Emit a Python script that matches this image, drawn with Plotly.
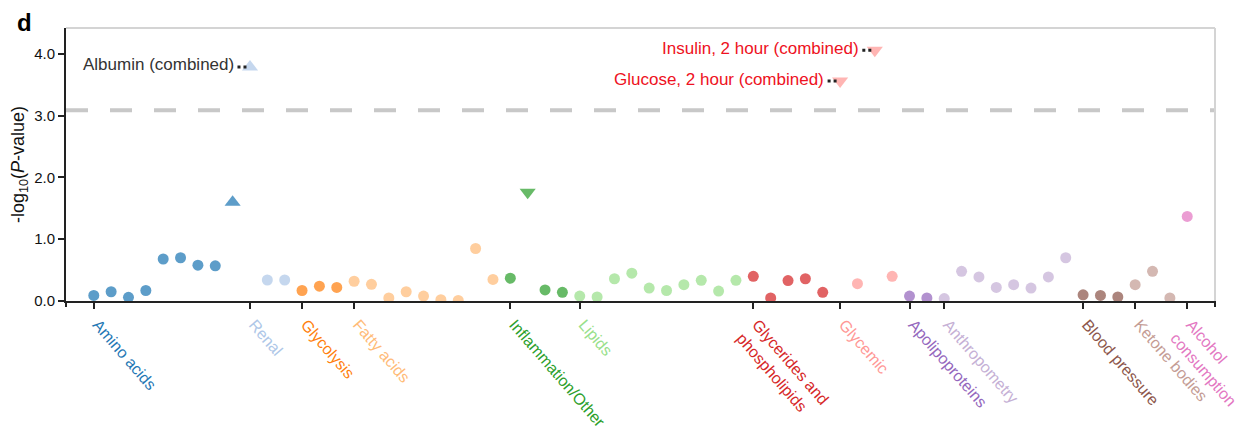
import plotly.graph_objects as go

# ---------------- data ----------------
groups = ["Amino acids", "Renal", "Glycolysis", "Fatty acids", "Inflammation/Other", "Lipids",
          "Glycerides and phospholipids", "Glycemic", "Apolipoproteins", "Anthropometry",
          "Blood pressure", "Ketone bodies", "Alcohol consumption"]
group_ticktext = ["Amino acids", "Renal", "Glycolysis", "Fatty acids", "Inflammation/Other", "Lipids",
                  "Glycerides and<br>phospholipids", "Glycemic", "Apolipoproteins", "Anthropometry",
                  "Blood pressure", "Ketone bodies", "Alcohol<br>consumption"]
group_colors = ["#1f77b4", "#aec7e8", "#ff7f0e", "#ffbb78", "#2ca02c", "#98df8a",
                "#d62728", "#ff9896", "#9467bd", "#c5b0d5", "#8c564b", "#c49c94", "#e377c2"]

amino_acids = [0.09, 0.15, 0.06, 0.17, 0.68, 0.70, 0.58, 0.57, 1.60]
renal = [3.79, 0.34, 0.34]
glycolysis = [0.17, 0.24, 0.22]
fatty_acids = [0.32, 0.27, 0.05, 0.15, 0.08, 0.02, 0.01, 0.85, 0.35]
inflammation = [0.37, 1.76, 0.18, 0.14]
lipids = [0.08, 0.065, 0.36, 0.45, 0.21, 0.17, 0.265, 0.335, 0.16, 0.335]
glycerides = [0.40, 0.05, 0.33, 0.36, 0.14]
glycemic = [3.56, 0.28, 4.06, 0.40]
apolipoproteins = [0.08, 0.05]
anthropometry = [0.04, 0.48, 0.39, 0.22, 0.265, 0.21, 0.39, 0.70]
blood_pressure = [0.10, 0.09, 0.065]
ketone_bodies = [0.265, 0.48, 0.05]
alcohol = [1.37]

group_values = [amino_acids, renal, glycolysis, fatty_acids, inflammation, lipids, glycerides,
                glycemic, apolipoproteins, anthropometry, blood_pressure, ketone_bodies, alcohol]

# marker shapes: o = circle, ^ = up triangle, v = down triangle
amino_shapes = ["o"] * 8 + ["^"]
renal_shapes = ["^", "o", "o"]
inflammation_shapes = ["o", "v", "o", "o"]
glycemic_shapes = ["v", "o", "v", "o"]
group_shapes = {0: amino_shapes, 1: renal_shapes, 4: inflammation_shapes, 7: glycemic_shapes}

# labelled points: (group index, position in group, text, text colour)
labels = [(1, 0, "Albumin (combined)", "#333333"),
          (7, 2, "Insulin, 2 hour (combined)", "#ee1122"),
          (7, 0, "Glucose, 2 hour (combined)", "#ee1122")]

threshold = 3.09
y_ticks = [0.0, 1.0, 2.0, 3.0, 4.0]

# ---------------- figure ----------------
FONT = "Arial, Liberation Sans, sans-serif"
sym_map = {"o": "circle", "^": "triangle-up", "v": "triangle-down"}
W, H = 1244, 421          # page body adds an 8px offset
ML, MR, MT, MB = 58, 37, 20, 128
PLOT_H = H - MT - MB
PLOT_W = W - ML - MR

fig = go.Figure()
starts = []
pos = 0
for gi, (vals, col) in enumerate(zip(group_values, group_colors)):
    starts.append(pos)
    shapes = group_shapes.get(gi, ["o"] * len(vals))
    xs = list(range(pos, pos + len(vals)))
    fig.add_trace(go.Scatter(
        x=xs, y=vals, mode="markers", showlegend=False, cliponaxis=True,
        marker=dict(color=col, opacity=0.72,
                    symbol=[sym_map[s] for s in shapes],
                    size=[11 if s == "o" else 14 for s in shapes],
                    line=dict(width=0)),
    ))
    pos += len(vals)
n_total = pos

# label annotations with dotted connectors
for gi, k, txt, tcol in labels:
    x = starts[gi] + k
    y = group_values[gi][k]
    fig.add_trace(go.Scatter(
        x=[x - 0.72, x - 0.12], y=[y, y], mode="lines", showlegend=False,
        line=dict(color="#222222", width=3, dash="3px,3px"), hoverinfo="skip"))
    fig.add_annotation(x=x, y=y, text=txt, showarrow=False, xanchor="right", yanchor="middle",
                       xshift=-14, yshift=2, font=dict(family=FONT, size=17, color=tcol))

# threshold line
fig.add_shape(type="line", xref="paper", yref="y", x0=0, x1=1, y0=threshold, y1=threshold,
              line=dict(color="#c8c8c8", width=4, dash="22px,22px"), layer="below")
# light top/right frame
fig.add_shape(type="line", xref="paper", yref="paper", x0=0, x1=1, y0=1, y1=1,
              line=dict(color="#d4d4d4", width=2))
fig.add_shape(type="line", xref="paper", yref="paper", x0=1, x1=1, y0=0, y1=1,
              line=dict(color="#d4d4d4", width=2))
# end ticks of the x axis
for xe in (0, 1):
    fig.add_shape(type="line", xref="paper", yref="paper", x0=xe, x1=xe, y0=0, y1=-6 / PLOT_H,
                  line=dict(color="#222222", width=2))

x_min, x_max = -1.6, n_total + 0.6
tickvals = starts
ticktext = [f'<span style="color:{c}">{t}</span>' for t, c in zip(group_ticktext, group_colors)]

fig.update_xaxes(range=[x_min, x_max], tickmode="array", tickvals=tickvals, ticktext=ticktext,
                 tickangle=49, ticks="outside", ticklen=6, tickwidth=2, tickcolor="#222222",
                 ticklabeloverflow="allow", ticklabelshift=4,
                 showline=True, linecolor="#222222", linewidth=2, showgrid=False, zeroline=False,
                 automargin=False, tickfont=dict(family=FONT, size=16))
fig.update_yaxes(range=[0, 4.42], tickmode="array", tickvals=y_ticks,
                 ticktext=[f"{v:.1f}" for v in y_ticks],
                 ticks="outside", ticklen=6, tickwidth=2, tickcolor="#222222",
                 showline=True, linecolor="#222222", linewidth=2, showgrid=False, zeroline=False,
                 automargin=False, tickfont=dict(family=FONT, size=15, color="#111111"),
                 title=dict(text="-log<sub>10</sub>(<i>P</i>-value)", standoff=6,
                            font=dict(family=FONT, size=18, color="#111111")))

fig.add_annotation(xref="paper", yref="paper", x=(24 - 8 - ML) / PLOT_W, y=1 + MT / PLOT_H,
                   text="<b>d</b>", showarrow=False, borderpad=0,
                   xanchor="center", yanchor="top", font=dict(family=FONT, size=24, color="#000000"))

fig.update_layout(width=W, height=H, margin=dict(l=ML, r=MR, t=MT, b=MB, autoexpand=False),
                  plot_bgcolor="white", paper_bgcolor="white", font=dict(family=FONT))

fig.write_html("out.html")
